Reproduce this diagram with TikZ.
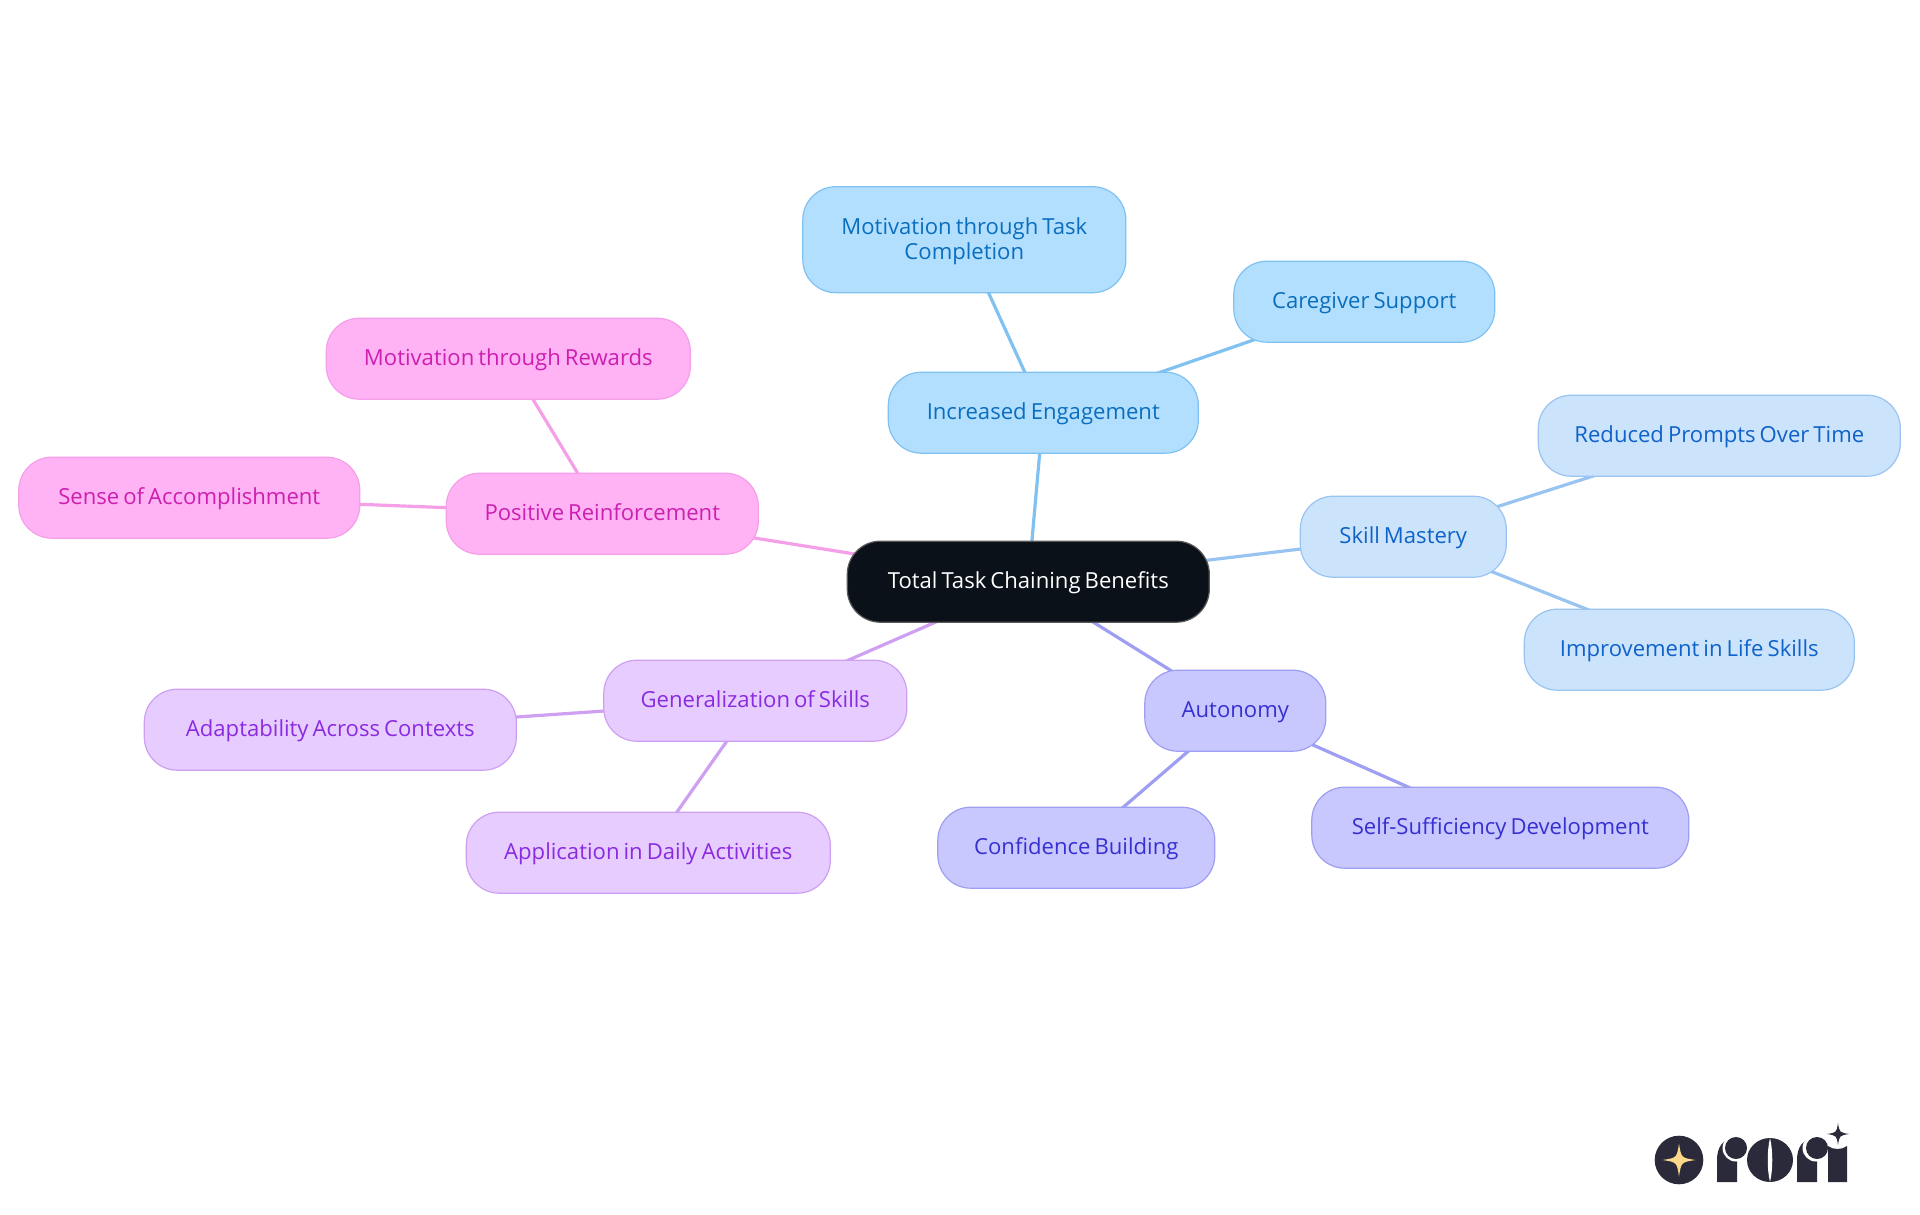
\documentclass[tikz,border=0pt]{standalone}
\usepackage{fontspec}
\setmainfont[WordSpace=0.7]{Open Sans}
\usetikzlibrary{backgrounds}

\definecolor{rootfill}{HTML}{0B1119}
\definecolor{engfill}{HTML}{B3DFFF}
\definecolor{engline}{HTML}{7FC2F2}
\definecolor{engtext}{HTML}{0A6EBD}
\definecolor{skillfill}{HTML}{CCE3FC}
\definecolor{skillline}{HTML}{99C4F2}
\definecolor{skilltext}{HTML}{0F62C8}
\definecolor{autofill}{HTML}{C8C8FF}
\definecolor{autoline}{HTML}{9E9EF2}
\definecolor{autotext}{HTML}{3730D0}
\definecolor{genfill}{HTML}{E6CCFF}
\definecolor{genline}{HTML}{CFA0F2}
\definecolor{gentext}{HTML}{8A2BE0}
\definecolor{posfill}{HTML}{FFB3F5}
\definecolor{posline}{HTML}{F59FE8}
\definecolor{postext}{HTML}{CC1FB0}
\definecolor{logodark}{HTML}{2A2A3A}
\definecolor{logostar}{HTML}{FBD98A}

\tikzstyle{pill} = [rectangle,rounded corners=33pt,line width=1.2pt,inner sep=0pt,minimum height=81pt,align=center,text height=17pt,text depth=4.4pt,yshift=-0.7pt,xshift=0.3pt,font=\fontsize{22.1}{24.5}\selectfont]
\tikzstyle{rootpill} = [pill,fill=rootfill,draw=gray!70!black,text=white]
\tikzstyle{engpill} = [pill,fill=engfill,draw=engline,text=engtext]
\tikzstyle{skillpill} = [pill,fill=skillfill,draw=skillline,text=skilltext]
\tikzstyle{autopill} = [pill,fill=autofill,draw=autoline,text=autotext]
\tikzstyle{genpill} = [pill,fill=genfill,draw=genline,text=gentext]
\tikzstyle{pospill} = [pill,fill=posfill,draw=posline,text=postext]
\tikzstyle{link} = [line width=3.2pt]

\newcommand{\sparkle}[5]{\fill[#4] ({#1+#3},#2) .. controls ({#1+#5},{#2+#5}) .. (#1,{#2+#3}) .. controls ({#1-#5},{#2+#5}) .. ({#1-#3},#2) .. controls ({#1-#5},{#2-#5}) .. (#1,{#2-#3}) .. controls ({#1+#5},{#2-#5}) .. cycle;}

\begin{document}
\begin{tikzpicture}[x=1pt,y=-1pt]
	\useasboundingbox (0,0) rectangle (1920,1215);

	\node[rootpill,minimum width=362pt] (root) at (1028,581) {Total Task Chaining Benefits};

	\node[engpill,minimum width=310pt] (eng) at (1043,412) {Increased Engagement};
	\node[engpill,minimum width=323pt,minimum height=106pt,text height=,text depth=] (eng1) at (964,239) {\rule{0pt}{20pt}Motivation through Task\\Completion};
	\node[engpill,minimum width=261pt] (eng2) at (1364,301) {Caregiver Support};

	\node[skillpill,minimum width=206pt] (skill) at (1403,536) {Skill Mastery};
	\node[skillpill,minimum width=362pt] (skill1) at (1719,435) {Reduced Prompts Over Time};
	\node[skillpill,minimum width=330pt] (skill2) at (1689,649) {Improvement in Life Skills};

	\node[autopill,minimum width=181pt] (auto) at (1235,710) {Autonomy};
	\node[autopill,minimum width=377pt] (auto1) at (1500,827) {Self-Sufficiency Development};
	\node[autopill,minimum width=277pt] (auto2) at (1076,847) {Confidence Building};

	\node[genpill,minimum width=303pt] (gen) at (755,700) {Generalization of Skills};
	\node[genpill,minimum width=372pt] (gen1) at (330,729) {Adaptability Across Contexts};
	\node[genpill,minimum width=364pt] (gen2) at (648,852) {Application in Daily Activities};

	\node[pospill,minimum width=312pt] (pos) at (602,513) {Positive Reinforcement};
	\node[pospill,minimum width=364pt] (pos1) at (508,358) {Motivation through Rewards};
	\node[pospill,minimum width=341pt] (pos2) at (189,497) {Sense of Accomplishment};

	\begin{scope}[on background layer]
		\draw[link,engline] (root.center) -- (eng.center);
		\draw[link,engline] (eng.center) -- (eng1.center);
		\draw[link,engline] (eng.center) -- (eng2.center);
		\draw[link,skillline] (root.center) -- (skill.center);
		\draw[link,skillline] (skill.center) -- (skill1.center);
		\draw[link,skillline] (skill.center) -- (skill2.center);
		\draw[link,autoline] (root.center) -- (auto.center);
		\draw[link,autoline] (auto.center) -- (auto1.center);
		\draw[link,autoline] (auto.center) -- (auto2.center);
		\draw[link,genline] (root.center) -- (gen.center);
		\draw[link,genline] (gen.center) -- (gen1.center);
		\draw[link,genline] (gen.center) -- (gen2.center);
		\draw[link,posline] (root.center) -- (pos.center);
		\draw[link,posline] (pos.center) -- (pos1.center);
		\draw[link,posline] (pos.center) -- (pos2.center);
	\end{scope}

	% logo
	\fill[logodark] (1679,1160) circle (24.3);
	\sparkle{1679}{1160}{16.5}{logostar}{2.2}
	\fill[logodark] (1717,1182) -- (1717,1160) .. controls (1717,1148) and (1722,1138) .. (1737,1138) -- (1737,1182) -- cycle;
	\fill[white] (1736,1148) circle (13.5);
	\fill[logodark] (1736,1148) circle (11);
	\fill[logodark] (1770,1160) ellipse (23 and 22);
	\fill[white] (1770,1138) .. controls (1773,1150) and (1773,1170) .. (1770,1182) .. controls (1767,1170) and (1767,1150) .. (1770,1138);
	\fill[logodark] (1797,1182) -- (1797,1160) .. controls (1797,1148) and (1802,1138) .. (1817,1138) -- (1817,1182) -- cycle;
	\fill[white] (1816,1148) circle (13.5);
	\fill[logodark] (1817,1148) circle (11);
	\fill[logodark] (1828,1182) -- (1828,1146) .. controls (1833,1150) and (1842,1150) .. (1847,1146) -- (1847,1182) -- cycle;
	\sparkle{1838}{1134}{11}{logodark}{1.5}
\end{tikzpicture}
\end{document}
